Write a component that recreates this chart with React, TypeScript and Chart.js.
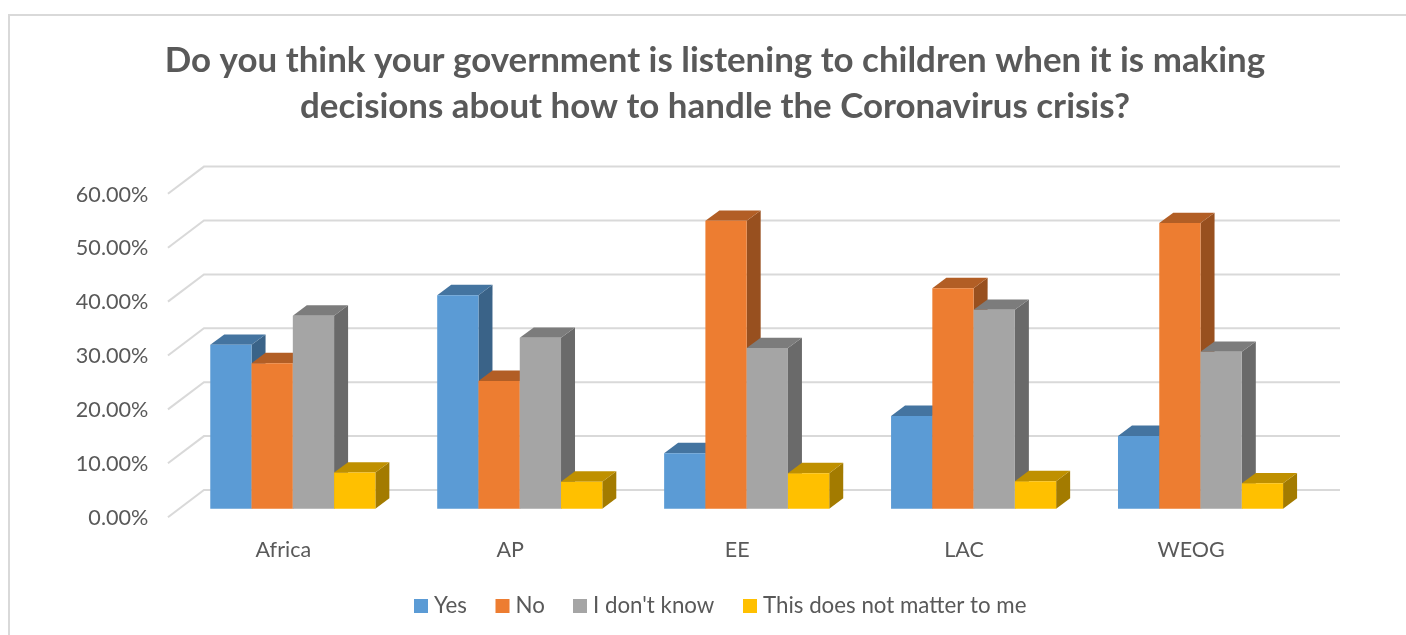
import React, { useEffect, useRef } from "react";
import { Chart, registerables } from "chart.js";

Chart.register(...registerables);

const titleLines = [
  "Do you think your government is listening to children when it is making",
  "decisions about how to handle the Coronavirus crisis?",
];
const categories = ["Africa", "AP", "EE", "LAC", "WEOG"];
const yes = [30.4, 39.6, 10.3, 17.2, 13.5];
const no = [27.0, 23.7, 53.4, 40.9, 53.0];
const dontKnow = [35.8, 31.7, 29.8, 36.9, 29.1];
const noMatter = [6.7, 5.0, 6.6, 5.1, 4.7];

const FONT = "Lato, Carlito, Calibri, sans-serif";
const TEXT = "#595959";
const GRID = "#d9d9d9";

const seriesStyles = [
  { label: "Yes", data: yes, front: "#5b9bd5", top: "#4474a0", side: "#3a6388", legendX: 414 },
  { label: "No", data: no, front: "#ed7d31", top: "#b25e25", side: "#98501f", legendX: 495.5 },
  { label: "I don't know", data: dontKnow, front: "#a5a5a5", top: "#7c7c7c", side: "#6a6a6a", legendX: 573 },
  { label: "This does not matter to me", data: noMatter, front: "#ffc000", top: "#bf9000", side: "#a37b00", legendX: 743 },
];

const DEPTH_X = 14;
const DEPTH_Y = 10.4;

const framePlugin = {
  id: "frame",
  afterLayout(chart: any) {
    // Tick labels are clipped to the axis box: let them reach further left.
    chart.scales.y.left = 0;
  },
  beforeDraw(chart: any) {
    const { ctx, width, height } = chart;
    ctx.save();
    ctx.fillStyle = "#ffffff";
    ctx.fillRect(0, 0, width, height);
    ctx.strokeStyle = GRID;
    ctx.lineWidth = 2;
    ctx.beginPath();
    ctx.moveTo(9, height);
    ctx.lineTo(9, 15);
    ctx.lineTo(width, 15);
    ctx.stroke();
    ctx.restore();
  },
};

const wallPlugin = {
  id: "wall",
  beforeDatasetsDraw(chart: any) {
    const { ctx, chartArea, scales } = chart;
    const y = scales.y;
    ctx.save();
    ctx.strokeStyle = GRID;
    ctx.lineWidth = 2;
    y.ticks.forEach((t: any) => {
      const p = y.getPixelForValue(t.value);
      ctx.beginPath();
      ctx.moveTo(chartArea.left - 11.4, p + 8.5);
      ctx.lineTo(chartArea.left + 24.6, p - 18.7);
      ctx.lineTo(chartArea.right + 26, p - 18.7);
      ctx.stroke();
    });
    ctx.restore();
  },
  // The library would paint series last-to-first; painting them first-to-last
  // lets every bar's front face cover the depth faces of its left neighbour.
  beforeDatasetDraw() {
    return false;
  },
  afterDatasetsDraw(chart: any) {
    const { ctx } = chart;
    ctx.save();
    seriesStyles.forEach((style, i) => {
      chart.getDatasetMeta(i).data.forEach((bar: any) => {
        const { x, y, base, width } = bar.getProps(["x", "y", "base", "width"], true);
        const l = x - width / 2;
        const r = x + width / 2;
        ctx.fillStyle = style.side;
        ctx.beginPath();
        ctx.moveTo(r, y);
        ctx.lineTo(r + DEPTH_X, y - DEPTH_Y);
        ctx.lineTo(r + DEPTH_X, base - DEPTH_Y);
        ctx.lineTo(r, base);
        ctx.closePath();
        ctx.fill();
        ctx.fillStyle = style.top;
        ctx.beginPath();
        ctx.moveTo(l, y);
        ctx.lineTo(l + DEPTH_X, y - DEPTH_Y);
        ctx.lineTo(r + DEPTH_X, y - DEPTH_Y);
        ctx.lineTo(r, y);
        ctx.closePath();
        ctx.fill();
        bar.draw(ctx);
      });
    });
    ctx.restore();
  },
};

const legendPlugin = {
  id: "bottomLegend",
  afterDraw(chart: any) {
    const { ctx } = chart;
    ctx.save();
    ctx.font = `22.3px ${FONT}`;
    ctx.textBaseline = "middle";
    ctx.textAlign = "left";
    chart.data.datasets.forEach((ds: any, i: number) => {
      const x = seriesStyles[i].legendX;
      ctx.fillStyle = ds.backgroundColor;
      ctx.fillRect(x, 599, 14, 14);
      ctx.fillStyle = TEXT;
      ctx.fillText(ds.label, x + 20, 606);
    });
    ctx.restore();
  },
};

export default function App() {
  const ref = useRef<HTMLCanvasElement>(null);
  useEffect(() => {
    const chart = new Chart(ref.current as HTMLCanvasElement, {
      type: "bar",
      data: {
        labels: categories,
        datasets: seriesStyles.map((s) => ({
          label: s.label,
          data: s.data,
          backgroundColor: s.front,
          borderWidth: 0,
          barPercentage: 1,
          categoryPercentage: 0.7275,
        })),
      },
      options: {
        animation: false,
        responsive: false,
        devicePixelRatio: 1,
        layout: { padding: { left: 116, right: 92, top: 0, bottom: 0 } },
        plugins: {
          legend: { display: false },
          tooltip: { enabled: false },
          title: {
            display: true,
            text: titleLines,
            color: TEXT,
            font: { family: FONT, size: 34.9, weight: "bold", lineHeight: 46 / 34.9 },
            padding: { top: 38, bottom: 55.3 },
          },
        },
        scales: {
          x: {
            grid: { display: false },
            border: { display: false },
            ticks: { color: TEXT, font: { family: FONT, size: 21.5 }, padding: 20, labelOffset: -9.5, maxRotation: 0 },
            afterFit(scale: any) {
              scale.height = 126.3;
            },
          },
          y: {
            min: 0,
            max: 60,
            grid: { display: false },
            border: { display: false },
            ticks: {
              stepSize: 10,
              color: TEXT,
              font: { family: FONT, size: 21.6 },
              padding: 32 - 9,
              labelOffset: 9.3,
              callback: (v: any) => Number(v).toFixed(2) + "%",
            },
            afterFit(scale: any) {
              scale.width = 63.35;
            },
          },
        },
      },
      plugins: [framePlugin, wallPlugin, legendPlugin],
    } as any);
    return () => chart.destroy();
  }, []);
  return (
    <div style={{ position: "absolute", left: 0, top: 0, width: 1406, height: 635, overflow: "hidden" }}>
      <canvas ref={ref} width={1406} height={635} style={{ display: "block" }} />
    </div>
  );
}
